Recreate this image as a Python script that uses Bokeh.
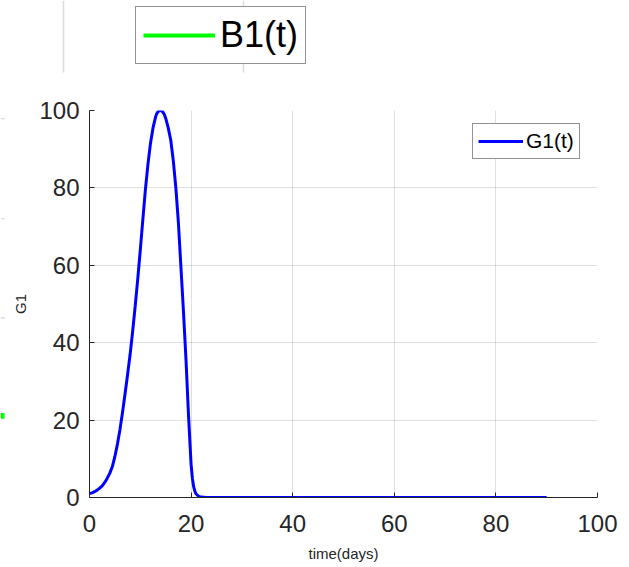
from bokeh.plotting import figure
from bokeh.layouts import column, row
from bokeh.models import Range1d, Legend, LegendItem, FixedTicker
from bokeh.embed import file_html
from bokeh.resources import INLINE

# ---- data ----
t_days = [0, 0.5, 1, 1.5, 2, 2.5, 3, 3.5, 4, 4.5, 5, 5.5, 6, 6.5, 7, 7.5, 8, 8.5,
          9, 9.5, 10, 10.5, 11, 11.5, 12, 12.5, 13, 13.25, 13.5, 13.75, 14, 14.25,
          14.5, 14.75, 15, 15.5, 16, 16.5, 17, 17.5, 18, 18.5, 19, 19.5, 20, 20.25,
          20.5, 20.75, 21, 21.5, 22, 23, 25, 30, 40, 50, 60, 70, 80, 90]
g1 = [1.0, 1.2, 1.5, 1.9, 2.4, 3.0, 3.9, 5.0, 6.3, 8.0, 10.6, 13.8, 17.6, 22.0,
      26.8, 31.8, 37.0, 43.0, 49.5, 56.5, 64.0, 71.8, 79.5, 86.0, 91.5, 95.5,
      98.3, 99.2, 99.7, 99.95, 100.0, 99.9, 99.5, 98.9, 98.0, 95.5, 92.3, 87.0,
      80.0, 71.0, 59.5, 48.0, 35.5, 21.0, 8.5, 5.0, 2.8, 1.6, 0.9, 0.3, 0.1,
      0.02, 0, 0, 0, 0, 0, 0, 0, 0]
x_ticks = [0, 20, 40, 60, 80, 100]
y_ticks = [0, 20, 40, 60, 80, 100]
series_label = "G1(t)"
other_label = "B1(t)"

FONT = "Liberation Sans"
AX = "#262626"

# ---- strip above the axes: legend of the neighbouring panel ----
top = figure(width=629, height=95, x_range=Range1d(0, 629), y_range=Range1d(95, 0),
             output_backend="svg", toolbar_location=None, min_border=0,
             outline_line_color=None, background_fill_color="white",
             border_fill_color="white")
top.axis.visible = False
top.grid.visible = False
top.segment(x0=[63, 243], y0=[0, 0], x1=[63, 243], y1=[72, 72],
            line_color="#dcdcdc", line_width=1.5)
# legend-only renderer (its single point is empty / not drawn)
green = top.line([float("nan")], [float("nan")], line_color="#00ff00", line_width=4)
leg2 = Legend(items=[LegendItem(label=other_label, renderers=[green])],
              location=(135, 31), label_text_font=FONT, label_text_font_size="36px",
              label_text_color="#000000", glyph_width=72, glyph_height=20,
              label_standoff=5, padding=7, margin=0, spacing=0,
              border_line_color="#262626", border_line_width=1.5,
              background_fill_color="white", background_fill_alpha=1)
top.add_layout(leg2, "center")

# ---- thin strip at the left edge (remnants of a neighbouring panel) ----
strip = figure(width=5, height=472, x_range=Range1d(0, 5), y_range=Range1d(567, 95),
               output_backend="svg", toolbar_location=None, min_border=0,
               outline_line_color=None, background_fill_color="white",
               border_fill_color="white")
strip.axis.visible = False
strip.grid.visible = False
strip.quad(left=[0, 0, 0], right=[5, 5, 5], top=[104.3, 226.3, 347.3],
           bottom=[105.7, 227.7, 348.7], fill_color="#d4d4d4", line_color=None)
strip.quad(left=[0], right=[4], top=[464], bottom=[471], fill_color="#00ff00",
           line_color=None)

# ---- main axes ----
p = figure(width=624, height=472, x_range=Range1d(0, 100), y_range=Range1d(0, 100),
           output_backend="svg", toolbar_location=None,
           min_border_left=84, min_border_right=32, min_border_top=15,
           min_border_bottom=70, background_fill_color="white",
           border_fill_color="white", outline_line_color=None)

for ax in (p.xaxis, p.yaxis):
    ax.axis_line_color = AX
    ax.axis_line_width = 1
    ax.major_tick_in = 5
    ax.major_tick_out = 0
    ax.minor_tick_line_color = None
    ax.major_tick_line_color = AX
    ax.major_label_text_font = FONT
    ax.major_label_text_font_size = "24px"
    ax.major_label_text_color = AX
    ax.axis_label_text_font = FONT
    ax.axis_label_text_font_size = "15px"
    ax.axis_label_text_font_style = "normal"
    ax.axis_label_text_color = AX

p.xaxis.ticker = FixedTicker(ticks=x_ticks)
p.yaxis.ticker = FixedTicker(ticks=y_ticks)
p.xaxis.axis_label = "time(days)"
p.yaxis.axis_label = "G1"
p.xaxis.major_label_standoff = 17
p.yaxis.major_label_standoff = 10
p.xaxis.axis_label_standoff = 10
p.yaxis.axis_label_standoff = 7

p.grid.grid_line_color = AX
p.grid.grid_line_alpha = 0.15
p.grid.grid_line_width = 1

blue = p.line(t_days, g1, line_color="#0000ff", line_width=3)

leg1 = Legend(items=[LegendItem(label=series_label, renderers=[blue])],
              location=(383, 338), label_text_font=FONT, label_text_font_size="21px",
              label_text_color="#000000", glyph_width=45, glyph_height=20,
              label_standoff=3, padding=5, margin=0, spacing=0,
              border_line_color="#262626", border_line_width=1,
              background_fill_color="white", background_fill_alpha=1)
p.add_layout(leg1, "center")

layout = column(top, row(strip, p, spacing=0), spacing=0)
open("out.html", "w").write(file_html(layout, INLINE))
